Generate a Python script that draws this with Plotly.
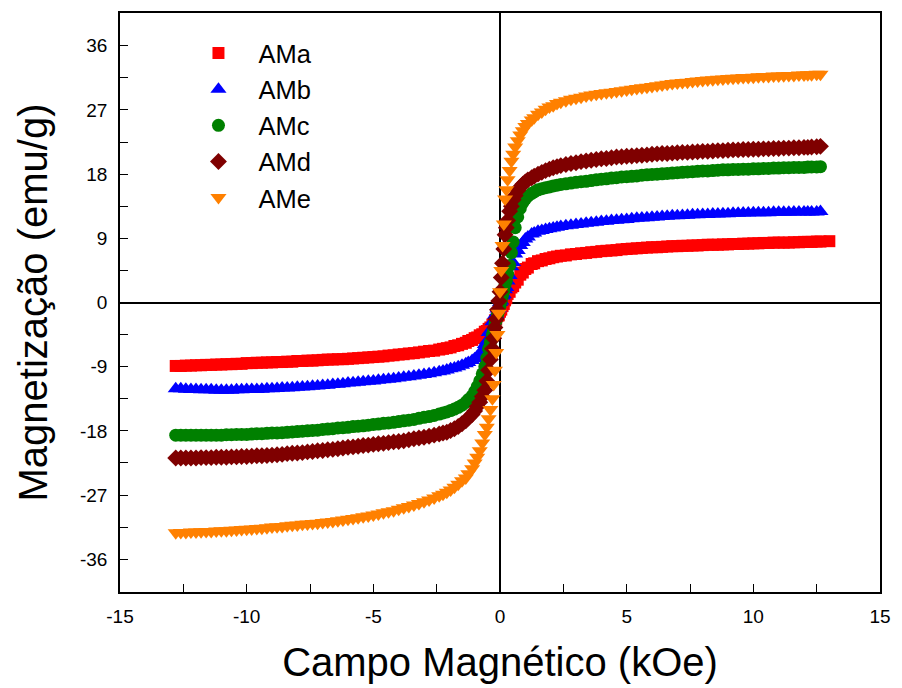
import plotly.graph_objects as go

# Magnetic field (kOe): sweep from high to low field
field_down = [-12.8, -12.4, -12.0, -11.6, -11.2, -10.8, -10.4, -10.0, -9.6, -9.2,
              -8.8, -8.4, -8.0, -7.6, -7.2, -6.8, -6.4, -6.0, -5.6, -5.2,
              -4.8, -4.4, -4.0, -3.6, -3.2, -2.8, -2.4, -2.1, -1.8, -1.5,
              -1.25, -1.0, -0.8, -0.6, -0.45, -0.3, -0.2, -0.1, 0.0, 0.1,
              0.2, 0.3, 0.45, 0.6, 0.8, 1.0, 1.25, 1.5, 1.8, 2.1,
              2.4, 2.8, 3.2, 3.6, 4.0, 4.4, 4.8, 5.2, 5.6, 6.0,
              6.4, 6.8, 7.2, 7.6, 8.0, 8.4, 8.8, 9.2, 9.6, 10.0,
              10.4, 10.8, 11.2, 11.6, 12.0, 12.3, 12.65]
field_down_ama = field_down + [13.0]

# Magnetic field (kOe): return sweep from low to high field
field_up = [-12.6, -12.2, -11.8, -11.4, -11.0, -10.6, -10.2, -9.8, -9.4, -9.0,
            -8.6, -8.2, -7.8, -7.4, -7.0, -6.6, -6.2, -5.8, -5.4, -5.0,
            -4.6, -4.2, -3.8, -3.4, -3.0, -2.6, -2.25, -1.95, -1.65, -1.35,
            -1.1, -0.9, -0.7, -0.52, -0.38, -0.25, -0.15, -0.05, 0.05, 0.15,
            0.25, 0.38, 0.52, 0.7, 0.9, 1.1, 1.35, 1.65, 1.95, 2.25,
            2.6, 3.0, 3.4, 3.8, 4.2, 4.6, 5.0, 5.4, 5.8, 6.2,
            6.6, 7.0, 7.4, 7.8, 8.2, 8.6, 9.0, 9.4, 9.8, 10.2,
            10.6, 11.0, 11.4, 11.8, 12.15, 12.5]

# Magnetization (emu/g), high-to-low sweep
m_ama_down = [-8.9, -8.85, -8.8, -8.75, -8.7, -8.65, -8.6, -8.5, -8.45, -8.4,
              -8.35, -8.3, -8.2, -8.15, -8.1, -8.0, -7.95, -7.9, -7.8, -7.7,
              -7.6, -7.45, -7.3, -7.15, -7.0, -6.8, -6.6, -6.4, -6.1, -5.8,
              -5.4, -5.0, -4.6, -4.1, -3.7, -3.1, -2.5, -1.9, -1.3, -0.5,
              0.3, 1.2, 2.1, 2.8, 3.9, 4.7, 5.4, 5.8, 6.1, 6.35,
              6.55, 6.75, 6.9, 7.05, 7.2, 7.3, 7.45, 7.55, 7.65, 7.75,
              7.8, 7.9, 7.95, 8.0, 8.05, 8.1, 8.15, 8.2, 8.25, 8.3,
              8.35, 8.4, 8.4, 8.45, 8.5, 8.5, 8.55, 8.6]
m_amb_down = [-12.1, -12.15, -12.2, -12.25, -12.3, -12.3, -12.25, -12.2, -12.2, -12.1,
              -12.05, -12.0, -11.9, -11.8, -11.7, -11.6, -11.45, -11.3, -11.2, -11.05,
              -10.9, -10.75, -10.6, -10.4, -10.2, -10.0, -9.7, -9.45, -9.2, -8.8,
              -8.4, -7.9, -7.1, -5.9, -4.2, -2.7, -1.8, -0.9, 0.0, 0.9,
              1.8, 3.0, 5.0, 6.8, 8.0, 8.9, 9.6, 10.0, 10.25, 10.45,
              10.65, 10.85, 11.0, 11.2, 11.35, 11.5, 11.6, 11.75, 11.85, 11.95,
              12.05, 12.15, 12.2, 12.3, 12.35, 12.4, 12.45, 12.5, 12.55, 12.6,
              12.6, 12.65, 12.65, 12.7, 12.7, 12.7, 12.75]
m_amc_down = [-18.6, -18.6, -18.6, -18.6, -18.6, -18.55, -18.5, -18.5, -18.4, -18.35,
              -18.3, -18.2, -18.1, -18.0, -17.9, -17.75, -17.6, -17.5, -17.35, -17.2,
              -17.05, -16.9, -16.7, -16.5, -16.25, -16.0, -15.65, -15.35, -14.95, -14.4,
              -13.6, -12.5, -11.0, -9.0, -6.5, -4.5, -3.0, -1.7, -0.5, 1.0,
              2.5, 4.0, 7.0, 10.5, 13.2, 14.5, 15.3, 15.8, 16.1, 16.35,
              16.55, 16.75, 16.95, 17.1, 17.3, 17.45, 17.6, 17.7, 17.85, 17.95,
              18.05, 18.15, 18.25, 18.35, 18.45, 18.5, 18.6, 18.65, 18.7, 18.75,
              18.8, 18.85, 18.9, 18.95, 18.95, 19.0, 19.05]
m_amd_down = [-21.8, -21.8, -21.8, -21.75, -21.7, -21.7, -21.65, -21.6, -21.5, -21.45,
              -21.35, -21.2, -21.1, -20.95, -20.8, -20.65, -20.5, -20.3, -20.15, -20.0,
              -19.8, -19.65, -19.5, -19.25, -19.0, -18.75, -18.45, -18.2, -17.7, -17.0,
              -16.2, -15.2, -14.0, -12.3, -9.5, -6.5, -3.5, -1.0, 1.5, 5.5,
              9.5, 11.5, 13.5, 15.0, 16.2, 16.9, 17.5, 18.0, 18.5, 18.9,
              19.2, 19.5, 19.75, 19.95, 20.15, 20.3, 20.45, 20.55, 20.65, 20.8,
              20.9, 20.95, 21.05, 21.1, 21.2, 21.25, 21.3, 21.4, 21.45, 21.5,
              21.55, 21.6, 21.65, 21.7, 21.75, 21.8, 21.9]
m_ame_down = [-32.3, -32.25, -32.2, -32.1, -32.05, -32.0, -31.9, -31.8, -31.7, -31.6,
              -31.45, -31.3, -31.2, -31.05, -30.95, -30.8, -30.6, -30.4, -30.2, -29.95,
              -29.65, -29.35, -29.0, -28.6, -28.2, -27.7, -27.1, -26.6, -25.9, -25.0,
              -24.0, -22.5, -20.8, -18.5, -16.3, -13.5, -9.5, -4.5, 1.5, 8.0,
              14.5, 17.2, 19.8, 21.8, 23.5, 24.7, 25.6, 26.4, 27.1, 27.6,
              28.1, 28.5, 28.8, 29.1, 29.3, 29.5, 29.7, 29.9, 30.1, 30.3,
              30.5, 30.7, 30.85, 31.0, 31.15, 31.25, 31.35, 31.45, 31.55, 31.6,
              31.7, 31.75, 31.8, 31.85, 31.9, 31.95, 32.0]

# Magnetization (emu/g), low-to-high return sweep
m_ama_up = [-8.9, -8.85, -8.8, -8.75, -8.7, -8.65, -8.6, -8.5, -8.45, -8.4,
            -8.35, -8.3, -8.2, -8.15, -8.05, -8.0, -7.95, -7.85, -7.75, -7.65,
            -7.55, -7.4, -7.25, -7.1, -6.9, -6.75, -6.5, -6.3, -6.0, -5.65,
            -5.25, -4.9, -4.45, -4.0, -3.5, -3.0, -2.4, -1.8, -1.0, -0.2,
            0.6, 1.5, 2.3, 3.2, 4.2, 4.9, 5.5, 5.9, 6.2, 6.45,
            6.6, 6.8, 6.95, 7.1, 7.25, 7.35, 7.5, 7.6, 7.7, 7.75,
            7.85, 7.9, 7.95, 8.0, 8.1, 8.1, 8.15, 8.2, 8.25, 8.3,
            8.35, 8.4, 8.4, 8.45, 8.5, 8.55]
m_amb_up = [-12.1, -12.2, -12.25, -12.25, -12.3, -12.3, -12.25, -12.2, -12.15, -12.1,
            -12.0, -11.95, -11.85, -11.75, -11.65, -11.5, -11.4, -11.25, -11.1, -11.0,
            -10.85, -10.7, -10.5, -10.3, -10.1, -9.85, -9.6, -9.3, -9.0, -8.6,
            -8.15, -7.6, -6.8, -5.4, -3.9, -2.6, -1.7, -0.8, 0.2, 1.1,
            2.1, 3.8, 5.6, 7.3, 8.4, 9.2, 9.75, 10.1, 10.35, 10.55,
            10.75, 10.95, 11.1, 11.25, 11.4, 11.55, 11.65, 11.8, 11.9, 12.0,
            12.1, 12.15, 12.25, 12.3, 12.35, 12.4, 12.45, 12.5, 12.55, 12.6,
            12.6, 12.65, 12.65, 12.7, 12.7, 12.7]
m_amc_up = [-18.6, -18.6, -18.6, -18.6, -18.6, -18.55, -18.5, -18.45, -18.4, -18.3,
            -18.25, -18.15, -18.05, -17.95, -17.8, -17.7, -17.55, -17.4, -17.3, -17.1,
            -16.95, -16.8, -16.6, -16.4, -16.1, -15.85, -15.5, -15.15, -14.7, -14.0,
            -13.1, -11.8, -10.0, -7.8, -5.6, -3.9, -2.5, -1.2, 0.2, 1.6,
            3.1, 5.2, 8.5, 12.0, 14.0, 14.9, 15.5, 15.95, 16.2, 16.45,
            16.65, 16.85, 17.0, 17.2, 17.35, 17.5, 17.65, 17.75, 17.9, 18.0,
            18.1, 18.2, 18.3, 18.4, 18.45, 18.55, 18.6, 18.65, 18.7, 18.75,
            18.8, 18.85, 18.9, 18.95, 19.0, 19.0]
m_amd_up = [-21.8, -21.8, -21.75, -21.75, -21.7, -21.65, -21.6, -21.55, -21.5, -21.4,
            -21.3, -21.15, -21.05, -20.9, -20.75, -20.6, -20.4, -20.25, -20.05, -19.9,
            -19.75, -19.55, -19.4, -19.1, -18.9, -18.6, -18.3, -17.95, -17.4, -16.6,
            -15.7, -14.6, -13.2, -11.0, -8.0, -5.0, -2.3, 0.2, 3.5, 7.5,
            10.5, 12.8, 14.4, 15.7, 16.6, 17.2, 17.7, 18.25, 18.7, 19.05,
            19.35, 19.6, 19.85, 20.05, 20.2, 20.4, 20.5, 20.6, 20.7, 20.85,
            20.9, 21.0, 21.05, 21.15, 21.2, 21.3, 21.35, 21.4, 21.45, 21.5,
            21.55, 21.6, 21.65, 21.7, 21.75, 21.85]
m_ame_up = [-32.25, -32.2, -32.15, -32.1, -32.0, -31.95, -31.85, -31.75, -31.65, -31.5,
            -31.4, -31.25, -31.1, -31.0, -30.85, -30.7, -30.5, -30.3, -30.05, -29.8,
            -29.5, -29.2, -28.8, -28.4, -27.95, -27.4, -26.9, -26.3, -25.5, -24.6,
            -23.3, -21.7, -19.7, -17.5, -15.0, -11.5, -7.0, -1.5, 4.5, 11.0,
            15.8, 18.5, 20.8, 22.7, 24.1, 25.1, 25.9, 26.7, 27.4, 27.9,
            28.3, 28.65, 28.95, 29.2, 29.4, 29.6, 29.8, 30.0, 30.2, 30.4,
            30.6, 30.8, 30.9, 31.05, 31.2, 31.3, 31.4, 31.5, 31.55, 31.65,
            31.7, 31.75, 31.85, 31.9, 31.95, 32.0]

series_names = ["AMa", "AMb", "AMc", "AMd", "AMe"]
series_down = [(field_down_ama, m_ama_down), (field_down, m_amb_down),
               (field_down, m_amc_down), (field_down, m_amd_down),
               (field_down, m_ame_down)]
series_up = [m_ama_up, m_amb_up, m_amc_up, m_amd_up, m_ame_up]
colors = ["#FF0000", "#0000FF", "#008000", "#7F0000", "#FF8000"]
symbols = ["square", "triangle-up", "circle", "diamond", "triangle-down"]
sizes = [12, 14, 13, 13, 14]

x_ticks = [-15, -10, -5, 0, 5, 10, 15]
x_labels = ["-15", "-10", "-5", "0", "5", "10", "15"]
y_ticks = [-36, -27, -18, -9, 0, 9, 18, 27, 36]
y_labels = ["-36", "-27", "-18", "-9", "0", "9", "18", "27", "36"]

FONT = "Liberation Sans, Arial, sans-serif"

fig = go.Figure()
for name, (xd, yd), yu, c, s, sz in zip(series_names, series_down, series_up,
                                        colors, symbols, sizes):
    fig.add_trace(go.Scatter(
        x=xd + field_up, y=yd + yu, mode="markers", name=name,
        marker=dict(symbol=s, size=sz, color=c, line=dict(width=0)),
    ))

axis_common = dict(
    showline=True, linecolor="black", linewidth=1.5, mirror=True,
    showgrid=False, zeroline=True, zerolinecolor="black", zerolinewidth=1.5,
    ticks="inside", ticklen=8, tickwidth=1.2, tickcolor="black",
    tickfont=dict(family=FONT, size=19, color="black"),
    tickmode="array",
)

fig.update_layout(
    width=902, height=688,
    margin=dict(l=120, r=15, t=11, b=96),
    paper_bgcolor="white", plot_bgcolor="white",
    font=dict(family=FONT, color="black"),
    showlegend=True,
    legend=dict(
        x=(179 - 120) / 767, y=(592 - 28) / 581, xanchor="left", yanchor="top",
        font=dict(family=FONT, size=25.5, color="black"),
        bgcolor="rgba(0,0,0,0)", itemwidth=70, tracegroupgap=0,
    ),
    xaxis=dict(
        axis_common, range=[-15, 15], tickvals=x_ticks, ticktext=x_labels,
        ticklabelstandoff=6,
        minor=dict(tickmode="linear", tick0=0, dtick=2.5, ticks="inside",
                   ticklen=8, tickwidth=1.2, tickcolor="black"),
        title=dict(text="Campo Magnético (kOe)",
                   font=dict(family=FONT, size=40, color="black"), standoff=22),
    ),
    yaxis=dict(
        axis_common, range=[-40.6, 40.6], tickvals=y_ticks, ticktext=y_labels,
        ticklabelstandoff=7,
        minor=dict(tickmode="linear", tick0=0, dtick=4.5, ticks="inside",
                   ticklen=8, tickwidth=1.2, tickcolor="black"),
        title=dict(text="Magnetização (emu/g)",
                   font=dict(family=FONT, size=40, color="black"), standoff=20),
    ),
)

fig.write_html("out.html")
